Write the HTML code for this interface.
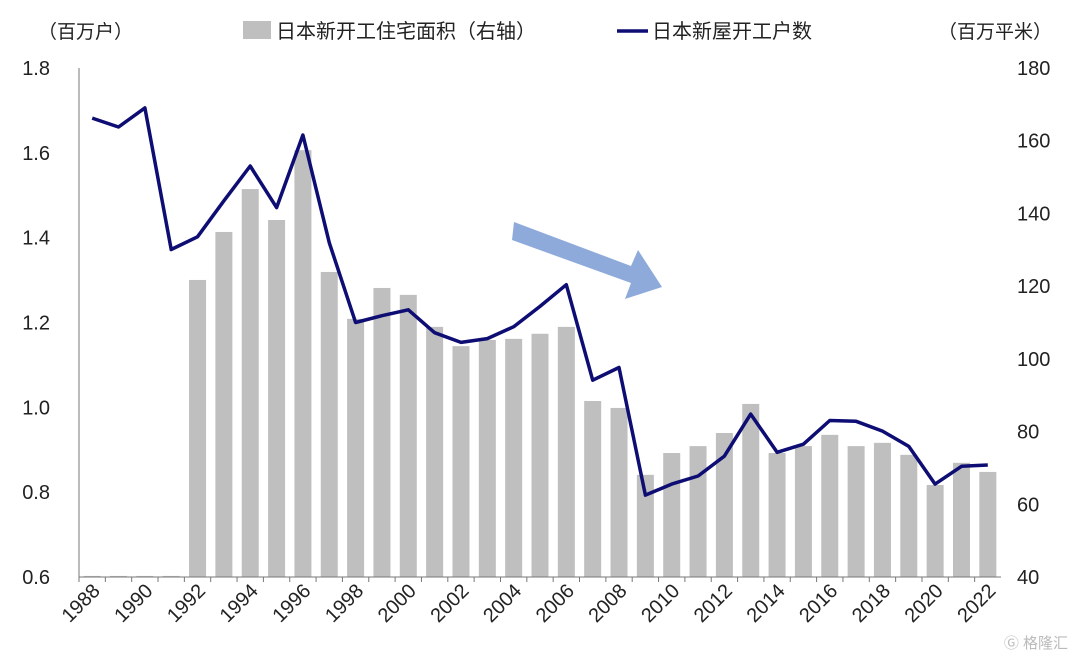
<!DOCTYPE html>
<html><head><meta charset="utf-8"><style>
body{margin:0;background:#fff;}
svg{display:block;font-family:"Liberation Sans","Noto Sans CJK SC",sans-serif;}
</style></head><body>
<svg id="c" width="1080" height="661">
<text x="38" y="38" font-size="19" fill="#222">（百万户）</text>
<text x="938" y="38" font-size="19" fill="#222">（百万平米）</text>
<g>
<rect x="243" y="21" width="28" height="18" fill="#bfbfbf"/>
<text x="276" y="38" font-size="20" fill="#222">日本新开工住宅面积（右轴）</text>
<line x1="617" y1="31" x2="648" y2="31" stroke="#0d0d73" stroke-width="3.5"/>
<text x="652" y="38" font-size="20" fill="#222">日本新屋开工户数</text>
</g>
<g id="bars"></g>
<g id="axes"></g>
<polyline id="line" fill="none" stroke="#0d0d73" stroke-width="3.5" stroke-linejoin="round"/>
<g>
<polygon points="514,222 631,266 638,250 662,287 625,299 631,283 512,240" fill="#8eaadb"/>
</g>
<text x="1068" y="648" font-size="15" fill="#bbb" text-anchor="end">Ⓖ 格隆汇</text>
</svg>
<script>
const years=[];for(let y=1988;y<=2022;y++)years.push(y);
const starts=[1.682,1.661,1.706,1.372,1.402,1.487,1.569,1.471,1.642,1.388,1.200,1.216,1.230,1.176,1.153,1.162,1.190,1.238,1.289,1.064,1.094,0.793,0.819,0.838,0.885,0.984,0.894,0.913,0.969,0.967,0.944,0.908,0.819,0.861,0.864];
const area=[40.3,40.3,40.3,40.3,121.7,134.9,146.7,138.2,157.4,123.9,111,119.5,117.6,108.8,103.5,105.2,105.5,106.9,108.8,88.4,86.5,68.1,74.1,76,79.6,87.6,74.1,76,79.1,76,76.9,73.6,65.3,71.4,68.9];
const leftTicks=[0.6,0.8,1.0,1.2,1.4,1.6,1.8];
const rightTicks=[40,60,80,100,120,140,160,180];
const NS='http://www.w3.org/2000/svg';
const X0=79,X1=1001,Y0=577,Y1=68,slot=(X1-X0)/years.length;
const xc=i=>X0+slot*(i+0.5);
const yl=v=>Y0-(v-0.6)/1.2*(Y0-Y1);
const yr=v=>Y0-(v-40)/140*(Y0-Y1);
function mk(tag,attrs,parent,txt){const e=document.createElementNS(NS,tag);for(const k in attrs)e.setAttribute(k,attrs[k]);if(txt!==undefined)e.textContent=txt;parent.appendChild(e);return e;}
const bars=document.getElementById('bars'),axes=document.getElementById('axes');
area.forEach((v,i)=>{const y=yr(v);const r=mk('rect',{x:xc(i)-8.5,y:y,width:17,height:Y0-y,fill:'#bfbfbf'},bars);

});
const al=mk('line',{x1:X0,y1:Y1,x2:X0,y2:Y0,stroke:'#777','stroke-width':1},axes);

const ab=mk('line',{x1:X0,y1:Y0,x2:X1,y2:Y0,stroke:'#777','stroke-width':1},axes);

leftTicks.forEach(t=>{const e=mk('text',{x:50,y:yl(t)+7,'font-size':20,fill:'#222','text-anchor':'end'},axes,t.toFixed(1));
});
rightTicks.forEach(t=>{const e=mk('text',{x:1017,y:yr(t)+7,'font-size':20,fill:'#222'},axes,String(t));
});
years.forEach((yy,i)=>{mk('line',{x1:X0+slot*i,y1:Y0,x2:X0+slot*i,y2:Y0+5,stroke:'#777'},axes);
if(i%2===0){const x=xc(i)+9,y=Y0+15;const e=mk('text',{x:x,y:y,'font-size':20,fill:'#222','text-anchor':'end',transform:`rotate(-45 ${x} ${y})`},axes,String(yy));
}});
document.getElementById('line').setAttribute('points',starts.map((v,i)=>xc(i).toFixed(1)+','+yl(v).toFixed(1)).join(' '));
</script>
</body></html>
